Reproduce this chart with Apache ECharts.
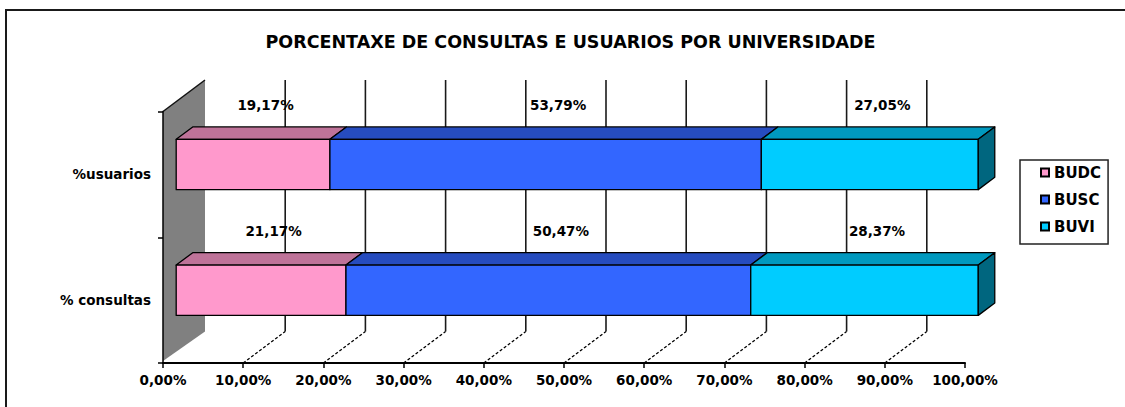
<!DOCTYPE html>
<html><head><meta charset="utf-8">
<script src="https://cdn.jsdelivr.net/npm/echarts@6/dist/echarts.min.js"></script>
<style>html,body{margin:0;padding:0;background:#fff}#c{width:1125px;height:407px}</style>
</head><body><div id="c"></div>
<script>
const chartTitle = 'PORCENTAXE DE CONSULTAS E USUARIOS POR UNIVERSIDADE';
const categories = ['% consultas', '%usuarios'];
const seriesNames = ['BUDC', 'BUSC', 'BUVI'];
const budc = [21.17, 19.17];
const busc = [50.47, 53.79];
const buvi = [28.37, 27.05];
const xTicks = [0, 10, 20, 30, 40, 50, 60, 70, 80, 90, 100];

const frontColors = ['#FF99CC', '#3366FF', '#00CCFF'];
const topColors = ['#BF7399', '#264CBF', '#0099BF'];
const sideColors = ['#804D66', '#1A3380', '#00667F'];
const FONT = '"DejaVu Sans", "Liberation Sans", sans-serif';
const D = [42, -31.5];       // depth vector (px)
const F1 = 0.314, F2 = 0.707; // bar front/back depth fractions
const BAR_RATIO = 0.40;

const fmt = v => v.toFixed(2).replace('.', ',') + '%';
const values = [budc, busc, buvi];

const chart = echarts.init(document.getElementById('c'), null, {renderer: 'svg'});

function renderBack(params, api) {
  const cs = params.coordSys;
  const v = api.value(0);
  const x = api.coord([v, 0])[0];
  const top = cs.y, bot = cs.y + cs.height;
  const ch = [];
  if (v === xTicks[0]) {
    ch.push({type: 'polygon', shape: {points: [[x, top], [x + D[0], top + D[1]], [x + D[0], bot + D[1]], [x, bot - 2]]},
      style: {fill: '#808080', stroke: null}});
    ch.push({type: 'line', shape: {x1: x, y1: top, x2: x + D[0], y2: top + D[1]}, style: {stroke: '#111', lineWidth: 1.5}});
  } else if (v < xTicks[xTicks.length - 1]) {
    ch.push({type: 'line', shape: {x1: x + D[0], y1: top + D[1], x2: x + D[0], y2: bot + D[1]}, style: {stroke: '#1a1a1a', lineWidth: 1.6}});
    ch.push({type: 'line', shape: {x1: x, y1: bot, x2: x + D[0], y2: bot + D[1]}, style: {stroke: '#000', lineWidth: 1.3, lineDash: [3, 2]}});
  }
  return {type: 'group', children: ch};
}

function makeBarRender(si) {
  return function (params, api) {
    const cat = api.value(0), s = api.value(1), e = api.value(2), val = api.value(3);
    const p0 = api.coord([s, cat]), p1 = api.coord([e, cat]);
    const half = api.size([0, 1])[1] * BAR_RATIO / 2;
    const xs = p0[0] + D[0] * F1, xe = p1[0] + D[0] * F1;
    const cy = p0[1] + D[1] * F1;
    const yt = cy - half, yb = cy + half;
    const ddx = D[0] * (F2 - F1), ddy = D[1] * (F2 - F1);
    const st = {stroke: '#000', lineWidth: 1.3, lineJoin: 'round'};
    const ch = [];
    ch.push({type: 'polygon', shape: {points: [[xs, yt], [xe, yt], [xe + ddx, yt + ddy], [xs + ddx, yt + ddy]]},
      style: Object.assign({fill: topColors[si]}, st)});
    ch.push({type: 'rect', shape: {x: xs, y: yt, width: xe - xs, height: yb - yt},
      style: Object.assign({fill: frontColors[si]}, st)});
    if (si === values.length - 1) {
      ch.push({type: 'polygon', shape: {points: [[xe, yt], [xe + ddx, yt + ddy], [xe + ddx, yb + ddy], [xe, yb]]},
        style: Object.assign({fill: sideColors[si]}, st)});
    }
    const pm = api.coord([(s + e) / 2, cat]);
    ch.push({type: 'text', x: pm[0] + D[0] * F2 - 4, y: yt + ddy - 22,
      style: {text: fmt(val), fill: '#000', font: 'bold 13.5px ' + FONT, align: 'center', verticalAlign: 'middle'}});
    return {type: 'group', children: ch};
  };
}

const barSeries = seriesNames.map((name, si) => {
  const data = categories.map((c, ci) => {
    let start = 0;
    for (let k = 0; k < si; k++) start += values[k][ci];
    return [ci, start, start + values[si][ci], values[si][ci]];
  });
  return {
    type: 'custom', name, z: 3,
    itemStyle: {color: frontColors[si], borderColor: '#000', borderWidth: 1},
    renderItem: makeBarRender(si),
    encode: {x: [1, 2], y: 0},
    data
  };
});

chart.setOption({
  animation: false,
  graphic: [
    {type: 'rect', shape: {x: 6, y: 10, width: 1200, height: 500}, style: {fill: null, stroke: '#1a1a1a', lineWidth: 2}, z: 0},
    {type: 'text', x: 570.5, y: 42, style: {text: chartTitle, fill: '#000', font: 'bold 17.5px ' + FONT, align: 'center', verticalAlign: 'middle'}}
  ],
  grid: {left: 163, top: 111.5, width: 802, height: 251.5, containLabel: false, outerBoundsMode: 'none'},
  xAxis: {
    type: 'value', min: 0, max: 100, interval: 10, z: 5,
    splitLine: {show: false},
    axisLine: {show: true, lineStyle: {color: '#000', width: 2}},
    axisTick: {show: true, length: 5, lineStyle: {color: '#000', width: 1.5}},
    axisLabel: {margin: 10, formatter: v => fmt(v), color: '#000', fontFamily: FONT, fontWeight: 'bold', fontSize: 13.5}
  },
  yAxis: {
    type: 'category', data: categories, z: 5,
    axisLine: {show: true, lineStyle: {color: '#000', width: 1.5}},
    axisTick: {show: true, length: 5, lineStyle: {color: '#000', width: 1.5}},
    splitLine: {show: false},
    axisLabel: {margin: 12, color: '#000', fontFamily: FONT, fontWeight: 'bold', fontSize: 13.5}
  },
  legend: {
    orient: 'vertical', left: 1020, top: 160,
    padding: [5, 7, 10, 20], itemGap: 12,
    itemWidth: 8, itemHeight: 8, icon: 'rect',
    borderColor: '#222', borderWidth: 1.5, backgroundColor: '#fff',
    textStyle: {color: '#000', fontFamily: FONT, fontWeight: 'bold', fontSize: 15},
    data: seriesNames
  },
  series: [{
    type: 'custom', name: 'back', z: 1, silent: true,
    renderItem: renderBack,
    encode: {x: 0, y: 1},
    data: xTicks.map(v => [v, 0])
  }].concat(barSeries)
});
</script></body></html>
